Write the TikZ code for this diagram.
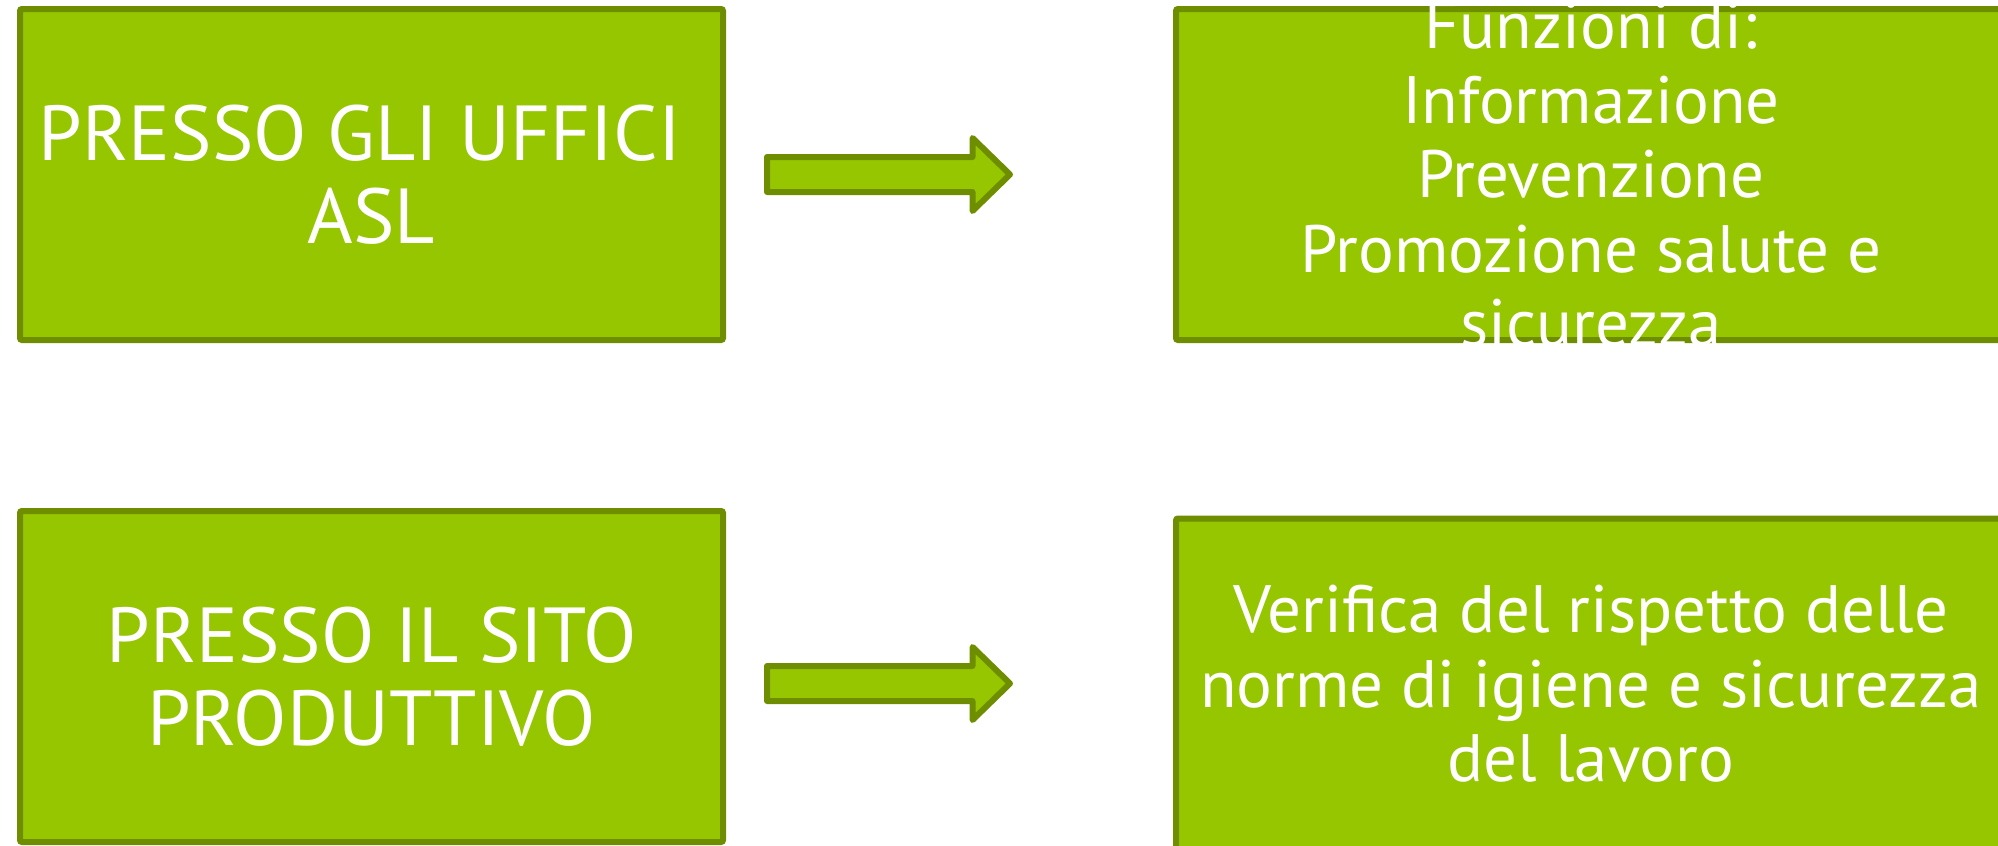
\documentclass[tikz,border=0pt]{standalone}
\usepackage{fontspec}
\setmainfont{PT Sans}
\usetikzlibrary{positioning}
\definecolor{aslgreen}{HTML}{95C600}
\definecolor{aslborder}{HTML}{6E8E00}
\begin{document}
\begin{tikzpicture}[
        x=1pt, y=-1pt,
        box/.style={
            rectangle,
            draw=aslborder,
            fill=aslgreen,
            line width=6pt,
            rounded corners=2pt,
            text=white,
            align=center,
            inner sep=0pt
        },
        leftbox/.style={box, minimum width=703pt, minimum height=331pt,
            font=\fontsize{78}{83}\selectfont},
        rightbox/.style={box, minimum width=830pt, minimum height=331pt,
            font=\fontsize{67}{74.5}\selectfont},
        bigarrow/.style={draw=aslborder, fill=aslgreen, line width=6pt,
            line join=round}
    ]
    \useasboundingbox (0,0) rectangle (1998,846);

    % Riquadri
    \node[leftbox]  (uffici)   at (371.5,174.5) {PRESSO GLI UFFICI\kern0.3em\\ASL};
    \node[rightbox, inner ysep=-12pt] (funzioni) at (1591,174.5)
        {Funzioni di:\\Informazione\\Prevenzione\\Promozione salute e\\sicurezza};
    \node[leftbox]  (sito)     at (371.5,676.5) {PRESSO IL SITO\\PRODUTTIVO};
    \node[rightbox] (verifica) at (1591,684)    {Verifica del rispetto delle\\norme di igiene e sicurezza\\del lavoro};

    % Frecce
    \draw[bigarrow, shift={(uffici.east)}]
        (41,-17.5) -- (246.5,-17.5) -- (246.5,-36.5) -- (284,0)
        -- (246.5,36.5) -- (246.5,17.5) -- (41,17.5) -- cycle;
    \draw[bigarrow, shift={(sito.east)}, yshift=-7pt]
        (41,-17.5) -- (246.5,-17.5) -- (246.5,-36.5) -- (284,0)
        -- (246.5,36.5) -- (246.5,17.5) -- (41,17.5) -- cycle;

\end{tikzpicture}
\end{document}
